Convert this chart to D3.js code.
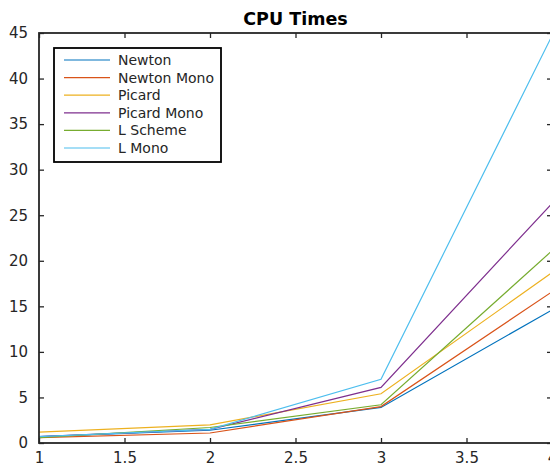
<!DOCTYPE html>
<html>
<head>
<meta charset="utf-8">
<script src="https://cdn.jsdelivr.net/npm/d3@7"></script>
<style>
  html, body { margin: 0; padding: 0; background: #fff; overflow: hidden; }
  svg { display: block; font-family: "DejaVu Sans", sans-serif; }
</style>
</head>
<body>
<svg id="chart" width="550" height="466"></svg>
<script>
// Problem sizes (x) and CPU times of each solver
const xValues = [1, 2, 3, 4];
const seriesNames = ["Newton", "Newton Mono", "Picard", "Picard Mono", "L Scheme", "L Mono"];
const newton      = [0.7, 1.4, 3.9, 14.6];
const newtonMono  = [0.6, 1.1, 4.0, 16.6];
const picard      = [1.2, 2.0, 5.4, 18.7];
const picardMono  = [0.7, 1.5, 6.1, 26.3];
const lScheme     = [0.6, 1.7, 4.2, 21.1];
const lMono       = [0.7, 1.5, 7.0, 44.7];
const xTicks = [1, 1.5, 2, 2.5, 3, 3.5, 4];
const yTicks = [0, 5, 10, 15, 20, 25, 30, 35, 40, 45];
const colors = ["#0072BD", "#D95319", "#EDB120", "#7E2F8E", "#77AC30", "#4DBEEE"];

const seriesValues = [newton, newtonMono, picard, picardMono, lScheme, lMono];
const series = seriesNames.map((name, i) => ({
  name, color: colors[i],
  points: xValues.map((xv, j) => [xv, seriesValues[i][j]])
}));

const svg = d3.select("#chart");
const plotLeft = 39, plotRight = 552, plotTop = 33, plotBottom = 443;
const axisColor = "#262626";

const x = d3.scaleLinear().domain([1, 4]).range([plotLeft, plotRight]);
const y = d3.scaleLinear().domain([0, 45]).range([plotBottom, plotTop]);

const line = d3.line().x(d => x(d[0])).y(d => y(d[1]));

// Data lines, clipped to the axes box
svg.append("clipPath").attr("id", "plotClip")
  .append("rect").attr("x", plotLeft).attr("y", plotTop)
  .attr("width", plotRight - plotLeft).attr("height", plotBottom - plotTop);

svg.append("g").attr("clip-path", "url(#plotClip)")
  .selectAll("path").data(series).join("path")
  .attr("d", d => line(d.points))
  .attr("fill", "none")
  .attr("stroke", d => d.color)
  .attr("stroke-width", 1.2);

// Axes with inward ticks on all four sides
const tickLen = 5;
function styleAxis(g) {
  g.select(".domain").remove();
  g.selectAll(".tick line").attr("stroke", axisColor).attr("stroke-width", 1.3);
  g.selectAll(".tick text").attr("fill", axisColor).attr("font-size", 15)
    .attr("font-family", "DejaVu Sans, sans-serif");
}

svg.append("g").attr("transform", `translate(0,${plotBottom})`)
  .call(d3.axisBottom(x).tickValues(xTicks).tickFormat(d3.format("")).tickSizeInner(-tickLen).tickSizeOuter(0).tickPadding(9))
  .call(styleAxis);
svg.append("g").attr("transform", `translate(0,${plotTop})`)
  .call(d3.axisTop(x).tickValues(xTicks).tickFormat("").tickSizeInner(-tickLen).tickSizeOuter(0))
  .call(styleAxis);
svg.append("g").attr("transform", `translate(${plotLeft},0)`)
  .call(d3.axisLeft(y).tickValues(yTicks).tickFormat(d3.format("")).tickSizeInner(-tickLen).tickSizeOuter(0).tickPadding(11))
  .call(styleAxis);
svg.append("g").attr("transform", `translate(${plotRight},0)`)
  .call(d3.axisRight(y).tickValues(yTicks).tickFormat("").tickSizeInner(-tickLen).tickSizeOuter(0))
  .call(styleAxis);

// Axes box
svg.append("rect")
  .attr("x", plotLeft).attr("y", plotTop)
  .attr("width", plotRight - plotLeft).attr("height", plotBottom - plotTop)
  .attr("fill", "none").attr("stroke", axisColor).attr("stroke-width", 1.8);

// Title
svg.append("text")
  .attr("x", (plotLeft + plotRight) / 2).attr("y", 25)
  .attr("text-anchor", "middle")
  .attr("font-size", 17.5).attr("font-weight", "bold").attr("fill", "#000")
  .text("CPU Times");

// Legend
const legend = svg.append("g");
legend.append("rect")
  .attr("x", 54).attr("y", 48).attr("width", 167).attr("height", 114)
  .attr("fill", "#fff").attr("stroke", "#000").attr("stroke-width", 1.8);
const rowY = i => 60 + i * 17.6;
legend.selectAll("line").data(series).join("line")
  .attr("x1", 64).attr("x2", 110)
  .attr("y1", (d, i) => rowY(i)).attr("y2", (d, i) => rowY(i))
  .attr("stroke", d => d.color).attr("stroke-width", 1.2);
legend.selectAll("text").data(series).join("text")
  .attr("x", 118).attr("y", (d, i) => rowY(i))
  .attr("dy", "0.35em")
  .attr("font-size", 14).attr("fill", axisColor)
  .text(d => d.name);
</script>
</body>
</html>
